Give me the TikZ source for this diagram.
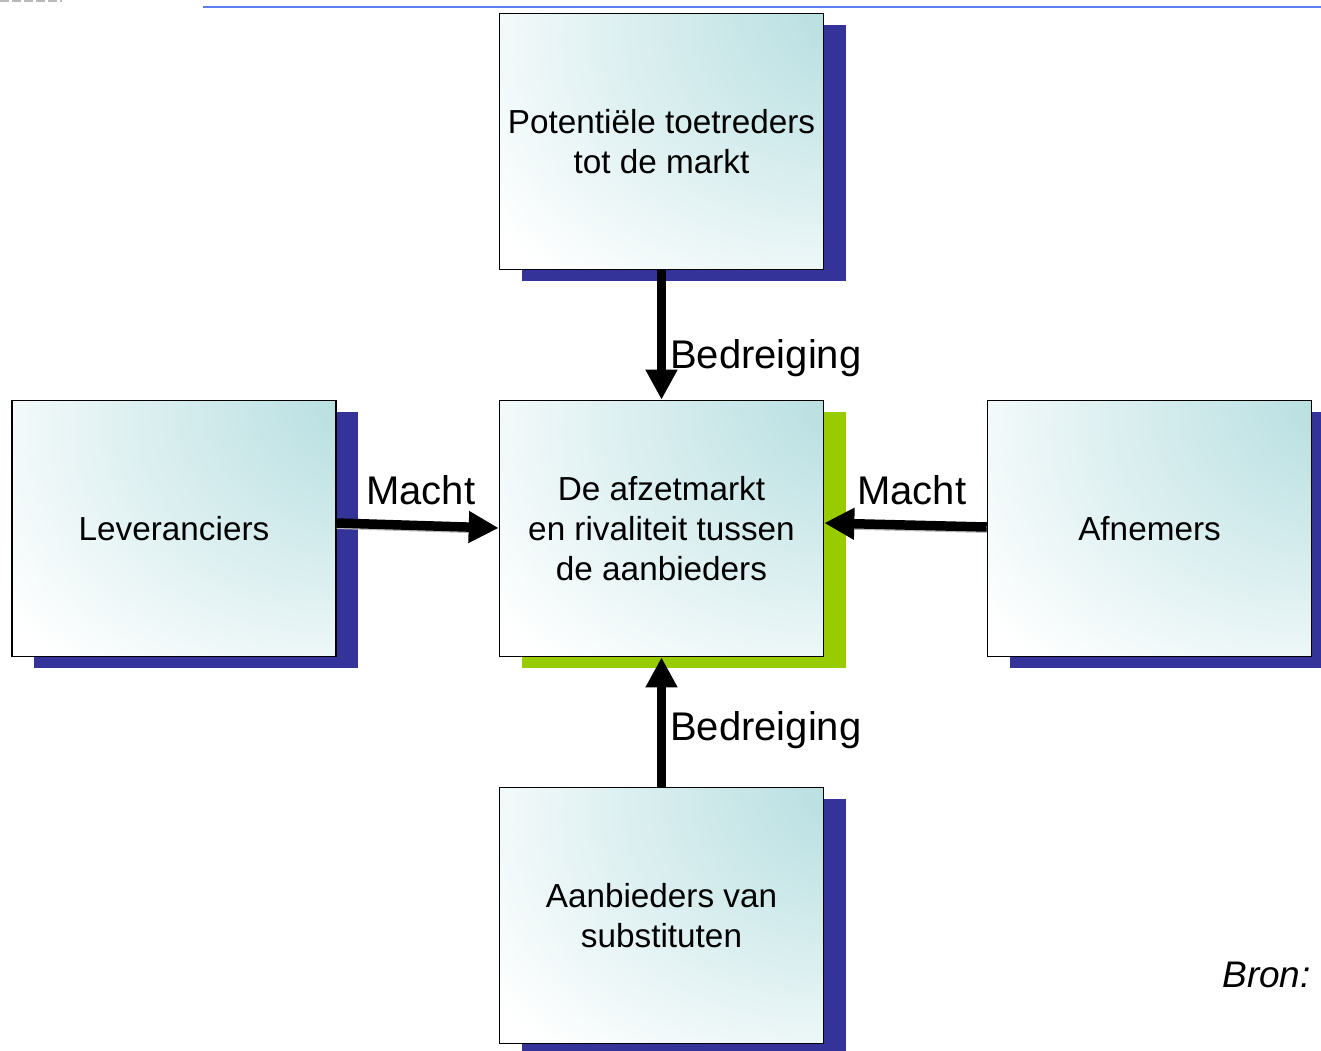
\documentclass[tikz,border=0pt]{standalone}
\usepackage{fontspec}
\setmainfont{Liberation Sans}
\usetikzlibrary{arrows.meta,shadows}

\definecolor{glow}{HTML}{B8DFE1}
\definecolor{navyshadow}{HTML}{333399}
\definecolor{limeshadow}{HTML}{99CC00}
\definecolor{ruleblue}{HTML}{5A80F0}

% soft teal glow from the upper right corner of each box
\pgfdeclareradialshading{boxglow}{\pgfpoint{40bp}{32bp}}{%
  color(0bp)=(glow); color(10bp)=(glow); color(54bp)=(white); color(100bp)=(white)}

\tikzset{
  forcebox/.style={draw=black, line width=1.6pt, shade, shading=boxglow,
    minimum width=324pt, minimum height=256pt, inner sep=0pt, align=center,
    font=\fontsize{33.3}{40}\selectfont,
    general shadow={shadow xshift=22pt, shadow yshift=-11pt, fill=#1}},
  forcebox/.default=navyshadow,
  forcearrow/.style={line width=9.5pt, -{Triangle[length=30pt,width=30pt]}},
  arrowghost/.style={line width=5pt, gray!55, shorten >=30pt},
  forcelabel/.style={inner sep=0pt, font=\fontsize{40}{48}\selectfont},
}

\begin{document}
\begin{tikzpicture}[x=1pt,y=-1pt]
\useasboundingbox (0,0) rectangle (1321,1050);

% header rule
\draw[gray!55, line width=2pt, dash pattern=on 9pt off 3pt] (0,1) -- (62,1);
\draw[ruleblue, line width=2pt] (203,7) -- (1321,7);

% the five forces
\node[forcebox] (toetreders) at (661.5,141.5) {Potentiële toetreders\\tot de markt};
\node[forcebox=limeshadow] (markt) at (661.5,528.5) {De afzetmarkt\\en rivaliteit tussen\\de aanbieders};
\node[forcebox] (leveranciers) at (174,528.5) {Leveranciers};
\node[forcebox] (afnemers) at (1149.5,528.5) {Afnemers};
\node[forcebox] (substituten) at (661.5,915.5) {Aanbieders van\\substituten};

% soft edges under the horizontal shafts
\draw[arrowghost] ([yshift=2pt]leveranciers.east) -- ([yshift=-3pt]markt.west);
\draw[arrowghost] ([yshift=-2pt]afnemers.west) -- ([yshift=2pt]markt.east);

% connectors
\draw[forcearrow] (toetreders.south) -- (markt.north);
\draw[forcearrow] (substituten.north) -- (markt.south);
\draw[forcearrow] ([yshift=5.5pt]leveranciers.east) -- ([yshift=0.5pt]markt.west);
\draw[forcearrow] ([yshift=1.5pt]afnemers.west) -- ([yshift=5.5pt]markt.east);

% labels
\node[forcelabel, anchor=west] (bedreigingboven) at (670,358) {Bedreiging};
\node[forcelabel, anchor=west] (bedreigingonder) at (670,730) {Bedreiging};
\node[forcelabel, anchor=west] (machtlinks) at (366,490) {Macht};
\node[forcelabel, anchor=west] (machtrechts) at (857,490) {Macht};

\node[inner sep=0pt, anchor=east, font=\fontsize{37}{44}\selectfont\itshape] (bron) at (1311,975) {Bron:};
\end{tikzpicture}
\end{document}
